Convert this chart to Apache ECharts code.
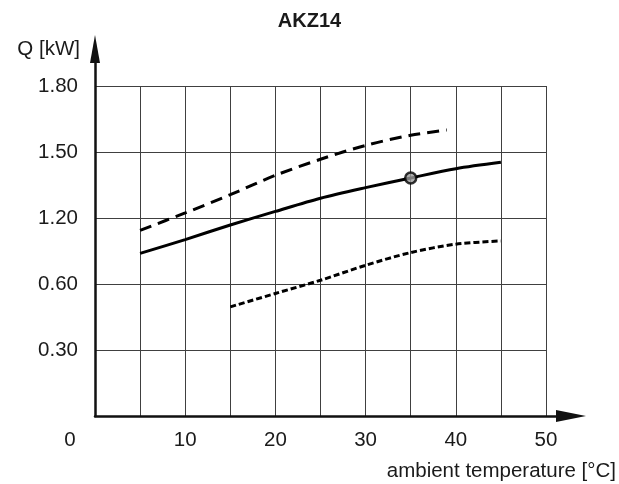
<!DOCTYPE html>
<html>
<head>
<meta charset="utf-8">
<script src="https://cdn.jsdelivr.net/npm/echarts@6/dist/echarts.min.js"></script>
<style>html,body{margin:0;padding:0;background:#fff}#c{width:619px;height:484px}</style>
</head>
<body>
<div id="c"></div>
<script>
// Data (y values in axis position units: each grid row = 0.3; tick labels as printed in the chart)
const dashedX = [5, 10, 15, 20, 25, 30, 35, 39];
const dashedY = [0.844, 0.923, 1.006, 1.094, 1.167, 1.230, 1.276, 1.300];
const solidX = [5, 10, 15, 20, 25, 30, 35, 40, 45];
const solidY = [0.739, 0.802, 0.868, 0.930, 0.990, 1.038, 1.082, 1.124, 1.153];
const dottedX = [15, 20, 25, 30, 35, 40, 45];
const dottedY = [0.496, 0.557, 0.617, 0.685, 0.743, 0.781, 0.796];
const markerPoint = [35, 1.082];
const yTickLabels = ['', '0.30', '0.60', '1.20', '1.50', '1.80'];
const xTickLabels = ['0', '10', '20', '30', '40', '50'];

const FONT = 'Liberation Sans';
const FS = 20.5;
const TXT = '#1a1a1a';
const zip = (xs, ys) => xs.map((x, i) => [x, ys[i]]);

const chart = echarts.init(document.getElementById('c'));
chart.setOption({
  animation: false,
  backgroundColor: '#fff',
  title: {
    text: 'AKZ14', left: 'center', top: 6,
    textStyle: { fontFamily: FONT, fontSize: 20, fontWeight: 'bold', color: TXT }
  },
  grid: [
    { left: 95, right: 73, top: 86, bottom: 68 },
    { left: 95, right: 47, top: 49, bottom: 68 }
  ],
  xAxis: [
    {
      gridIndex: 0, type: 'value', min: 0, max: 50, interval: 5,
      axisLine: { show: false }, axisTick: { show: false },
      splitLine: { show: true, lineStyle: { color: '#404040', width: 1 } },
      axisLabel: {
        margin: 14, fontFamily: FONT, fontSize: FS, color: TXT,
        formatter: v => {
          if (v % 10 !== 0) return '';
          const s = xTickLabels[v / 10];
          return v === 0 ? '{o|' + s + '}' : s;
        },
        rich: { o: { fontFamily: FONT, fontSize: FS, color: TXT, padding: [0, 50, 0, 0] } }
      }
    },
    {
      gridIndex: 1, type: 'value', min: 0, max: 53, z: 5,
      axisLine: { show: true, symbol: ['none', 'triangle'], symbolSize: [12, 30],
        lineStyle: { color: '#111', width: 2.5 } },
      axisTick: { show: false }, axisLabel: { show: false }, splitLine: { show: false },
      name: 'ambient temperature [°C]', nameLocation: 'end', nameGap: 45,
      nameTextStyle: { fontFamily: FONT, fontSize: FS, color: TXT, align: 'right',
        verticalAlign: 'top', padding: [45, 0, 0, 0] }
    }
  ],
  yAxis: [
    {
      gridIndex: 0, type: 'value', min: 0, max: 1.5, interval: 0.3,
      axisLine: { show: false }, axisTick: { show: false },
      splitLine: { show: true, lineStyle: { color: '#404040', width: 1 } },
      axisLabel: {
        margin: 17, fontFamily: FONT, fontSize: FS, color: TXT,
        formatter: v => yTickLabels[Math.round(v / 0.3)] || ''
      }
    },
    {
      gridIndex: 1, type: 'value', min: 0, max: 2, z: 5,
      axisLine: { show: true, symbol: ['none', 'triangle'], symbolSize: [10, 28],
        lineStyle: { color: '#111', width: 2.5 } },
      axisTick: { show: false }, axisLabel: { show: false }, splitLine: { show: false },
      name: 'Q [kW]', nameLocation: 'end', nameGap: 0,
      nameTextStyle: { fontFamily: FONT, fontSize: FS, color: TXT, align: 'right',
        verticalAlign: 'middle', padding: [0, 15, 0, 0] }
    }
  ],
  series: [
    {
      type: 'line', xAxisIndex: 0, yAxisIndex: 0, data: zip(dashedX, dashedY),
      smooth: 0.3, showSymbol: false, z: 3,
      lineStyle: { color: '#000', width: 3, type: [12, 7] }
    },
    {
      type: 'line', xAxisIndex: 0, yAxisIndex: 0, data: zip(solidX, solidY),
      smooth: 0.3, showSymbol: false, z: 3,
      lineStyle: { color: '#000', width: 3 }
    },
    {
      type: 'line', xAxisIndex: 0, yAxisIndex: 0, data: zip(dottedX, dottedY),
      smooth: 0.3, showSymbol: false, z: 3,
      lineStyle: { color: '#000', width: 3, type: [6, 3] }
    },
    {
      type: 'scatter', xAxisIndex: 0, yAxisIndex: 0, data: [markerPoint],
      symbol: 'circle', symbolSize: 11, z: 6,
      itemStyle: { color: '#9a9a9a', borderColor: '#000', borderWidth: 2.5 }
    }
  ]
});
</script>
</body>
</html>
